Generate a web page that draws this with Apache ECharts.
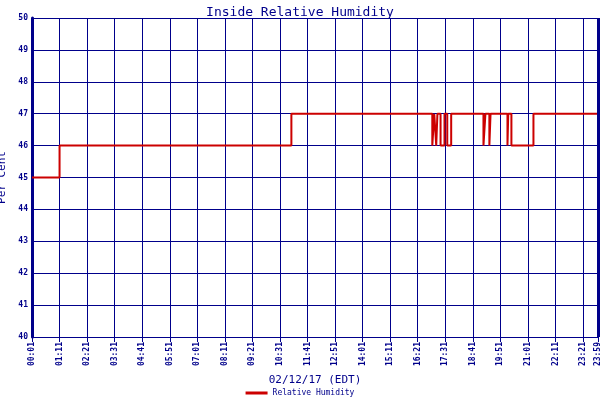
<!DOCTYPE html>
<html><head><meta charset="utf-8">
<script src="https://cdn.jsdelivr.net/npm/echarts@6/dist/echarts.min.js"></script>
<style>body{margin:0;background:#fff}#c{width:600px;height:400px}</style></head>
<body><div id="c"></div>
<script>
// change points: minute of day -> humidity value (held until next change)
const changeMinutes = [1, 71, 660, 1018, 1023, 1028, 1031, 1039, 1049, 1056, 1066, 1148, 1153, 1163, 1166, 1209, 1211, 1219, 1275, 1439];
const changeValues  = [45, 46, 47, 46, 47, 46, 47, 46, 47, 46, 47, 46, 47, 46, 47, 46, 47, 46, 47, 47];
const yTicks = [40,41,42,43,44,45,46,47,48,49,50];

function lab(m){const h=Math.floor(m/60),mm=m%60;return String(h).padStart(2,'0')+':'+String(mm).padStart(2,'0');}
const categories=[];for(let m=1;m<=1439;m++)categories.push(lab(m));
const data=changeMinutes.map((m,i)=>[lab(m),changeValues[i]]);
const navy='#00008b';
const showIdx=(i)=>i%70===0||i===categories.length-1;
const chart=echarts.init(document.getElementById('c'));
chart.setOption({
  animation:false,
  title:{text:'Inside Relative Humidity',left:'center',top:1,textStyle:{color:navy,fontFamily:'DejaVu Sans Mono',fontSize:13,fontWeight:'normal'}},
  grid:{left:32,right:2,top:18,bottom:63,containLabel:false,outerBoundsMode:'none'},
  legend:{bottom:-2,left:'center',itemWidth:22,itemHeight:3,icon:'rect',textStyle:{color:navy,fontFamily:'DejaVu Sans Mono',fontSize:8},data:['Relative Humidity']},
  xAxis:{type:'category',data:categories,boundaryGap:false,
    name:'02/12/17 (EDT)',nameLocation:'middle',nameGap:38,nameTextStyle:{color:navy,fontFamily:'DejaVu Sans Mono',fontSize:11},
    axisLine:{lineStyle:{color:navy,width:1}},
    axisTick:{interval:showIdx,lineStyle:{color:navy}},
    axisLabel:{interval:showIdx,rotate:90,color:navy,fontFamily:'DejaVu Sans Mono',fontSize:8,fontWeight:'bold',margin:5},
    splitLine:{show:true,interval:showIdx,lineStyle:{color:navy,width:1}}},
  yAxis:{type:'value',min:40,max:50,interval:1,
    name:'Per Cent',nameLocation:'middle',nameGap:20,nameTextStyle:{color:navy,fontFamily:'DejaVu Sans Mono',fontSize:11},
    axisLine:{show:true,lineStyle:{color:navy,width:3}},
    axisTick:{show:false},
    axisLabel:{color:navy,fontFamily:'DejaVu Sans Mono',fontSize:8,fontWeight:'bold',margin:4,formatter:v=>yTicks.includes(v)?String(v):''},
    splitLine:{lineStyle:{color:navy,width:1}}},
  series:[{name:'Relative Humidity',type:'line',step:'end',data:data,showSymbol:false,
    lineStyle:{color:'#cc0000',width:2},itemStyle:{color:'#cc0000'}},
    {type:'line',data:[],markLine:{silent:true,symbol:'none',label:{show:false},lineStyle:{color:navy,width:3,type:'solid'},data:[{xAxis:'23:59'}]}}]
});
</script></body></html>
